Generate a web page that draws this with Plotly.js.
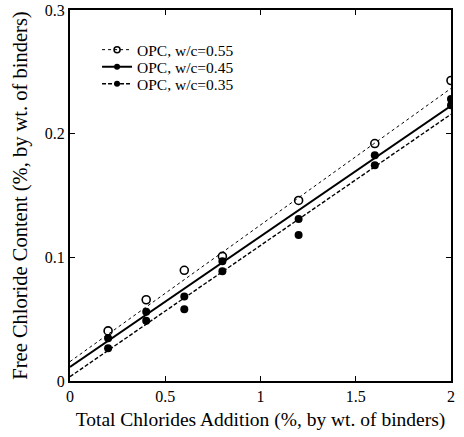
<!DOCTYPE html>
<html>
<head>
<meta charset="utf-8">
<script src="https://cdn.plot.ly/plotly-3.0.1.min.js"></script>
<style>html,body{margin:0;padding:0;background:#fff;}#chart{width:464px;height:437px;}</style>
</head>
<body>
<div id="chart"></div>
<script>
// Measured data (total chloride addition vs free chloride content)
const xAdd = [0.2, 0.4, 0.6, 0.8, 1.2, 1.6, 2.0];
const free055 = [0.0405, 0.0657, 0.0895, 0.1008, 0.146, 0.192, 0.243];
const free045 = [0.0346, 0.0560, 0.0684, 0.0968, 0.131, 0.1825, 0.228];
const free035 = [0.0265, 0.0487, 0.0580, 0.0887, 0.118, 0.1744, 0.223];
// Fitted lines (values at x=0 and x=2)
const fitX = [0, 2];
const fit055 = [0.0157, 0.2366];
const fit045 = [0.0113, 0.2225];
const fit035 = [0.0035, 0.2157];
const seriesNames = ['OPC, w/c=0.55', 'OPC, w/c=0.45', 'OPC, w/c=0.35'];
const xTickVals = [0, 0.5, 1, 1.5, 2];
const xTickText = ['0', '0.5', '1', '1.5', '2'];
const yTickVals = [0, 0.1, 0.2, 0.3];
const yTickText = ['0', '0.1', '0.2', '0.3'];

const serif = 'Liberation Serif, Times New Roman, serif';
const openMarker = {symbol: 'circle-open', size: 8, color: '#000', line: {width: 1.6, color: '#000'}};
const fullMarker = {symbol: 'circle', size: 8, color: '#000'};
const dotLine = {color: '#000', width: 1, dash: 'dot'};
const solidLine = {color: '#000', width: 2};
const dashLine = {color: '#000', width: 1.4, dash: '4px,2px'};

const traces = [
  {x: fitX, y: fit055, mode: 'lines', line: dotLine, showlegend: false, hoverinfo: 'skip'},
  {x: fitX, y: fit045, mode: 'lines', line: solidLine, showlegend: false, hoverinfo: 'skip'},
  {x: fitX, y: fit035, mode: 'lines', line: dashLine, showlegend: false, hoverinfo: 'skip'},
  {x: xAdd, y: free055, mode: 'markers', marker: openMarker, showlegend: false},
  {x: xAdd, y: free045, mode: 'markers', marker: fullMarker, showlegend: false},
  {x: xAdd, y: free035, mode: 'markers', marker: fullMarker, showlegend: false},
  // legend entries
  {x: [null], y: [null], mode: 'lines+markers', name: seriesNames[0], legend: 'legend', line: dotLine, marker: {symbol: 'circle-open', size: 6, color: '#000', line: {width: 1.5}}},
  {x: [null], y: [null], mode: 'lines+markers', name: seriesNames[1], legend: 'legend2', line: solidLine, marker: {symbol: 'circle', size: 6, color: '#000'}},
  {x: [null], y: [null], mode: 'lines+markers', name: seriesNames[2], legend: 'legend3', line: dashLine, marker: {symbol: 'circle', size: 6, color: '#000'}}
];

const axisCommon = {
  showgrid: false, zeroline: false, showline: true, linecolor: '#000', linewidth: 2,
  mirror: 'ticks', ticks: 'inside', ticklen: 5, tickwidth: 1, tickcolor: '#000',
  tickfont: {family: serif, size: 16, color: '#000'}
};

function legendAt(yPaper) {
  return {
    x: 0.071, y: yPaper, xanchor: 'left', yanchor: 'middle',
    bgcolor: 'rgba(0,0,0,0)', borderwidth: 0,
    font: {family: serif, size: 15.5, color: '#000'},
    itemwidth: 30
  };
}

const layout = {
  width: 464, height: 437,
  margin: {l: 70, r: 13, t: 10, b: 56},
  paper_bgcolor: '#fff', plot_bgcolor: '#fff',
  font: {family: serif, color: '#000'},
  xaxis: Object.assign({}, axisCommon, {
    range: [0, 2], tickvals: xTickVals, ticktext: xTickText,
    title: {text: 'Total Chlorides Addition (%, by wt. of binders)', font: {family: serif, size: 19.5, color: '#000'}, standoff: 8}
  }),
  yaxis: Object.assign({}, axisCommon, {
    range: [0, 0.3], tickvals: yTickVals, ticktext: yTickText,
    title: {text: 'Free Chloride Content (%, by wt. of binders)', font: {family: serif, size: 20.5, color: '#000'}, standoff: 12}
  }),
  legend: legendAt(0.892),
  legend2: legendAt(0.846),
  legend3: legendAt(0.800)
};

Plotly.newPlot('chart', traces, layout, {displayModeBar: false, staticPlot: true});
</script>
</body>
</html>
